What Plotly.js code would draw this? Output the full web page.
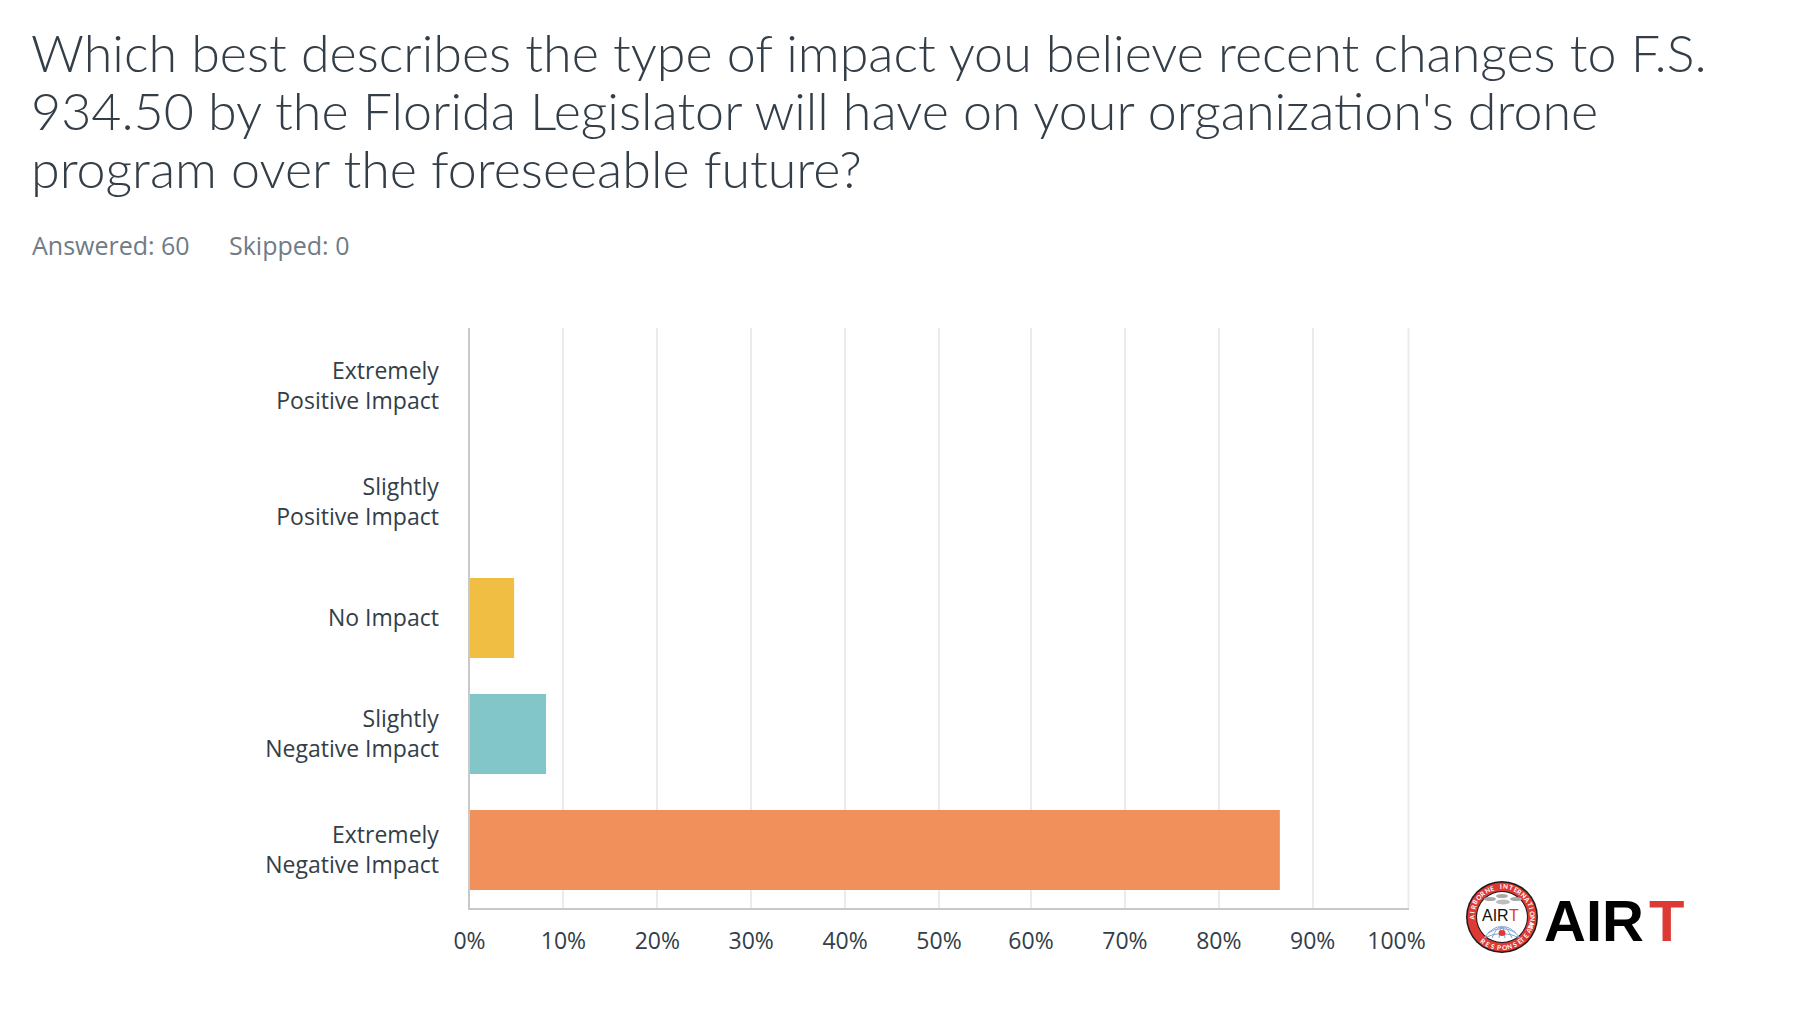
<!DOCTYPE html>
<html><head><meta charset="utf-8">
<script src="https://cdn.plot.ly/plotly-3.0.1.min.js"></script>
<style>html,body{margin:0;padding:0;background:#fff}</style></head>
<body><div id="chart" style="width:1796px;height:1010px"></div>
<script>
const W=1796,H=1010;
const categories=["Extremely<br>Negative Impact","Slightly<br>Negative Impact","No Impact","Slightly<br>Positive Impact","Extremely<br>Positive Impact"];
const values=[86.3,8.15,4.75,0,0];
const barColors=["#f2905c","#83c6ca","#f0be43","#cccccc","#cccccc"];
const xTickVals=[0,10,20,30,40,50,59.8,69.8,79.8,89.8,100];
const xTickText=["0%","10%","20%","30%","40%","50%","60%","70%","80%","90%","100%\u00a0\u00a0\u00a0\u00a0"];
const titleLines=["Which best describes the type of impact you believe recent changes to F.S.","934.50 by the Florida Legislator will have on your organization's drone","program over the foreseeable future?"];
const FONT="Lato, sans-serif", LABEL="'Open Sans', sans-serif", LOGO="'Liberation Sans', sans-serif", INK="#333e48";
const px=x=>x/W, py=y=>1-y/H;
const ann=(text,x,y,size,color,o={})=>Object.assign({text,x:px(x),y:py(y),xref:'paper',yref:'paper',showarrow:false,xanchor:'left',yanchor:'middle',font:{family:FONT,size,color}},o);
const annotations=[];
titleLines.forEach((t,i)=>annotations.push(ann(t,29,51.5+i*58.3,52,INK,{font:{family:FONT,size:52,color:INK,weight:300}})));
annotations.push(ann("Answered: 60",30,245,25,"#6f7b85",{font:{family:LABEL,size:25,color:"#6f7b85"}}));
annotations.push(ann("Skipped: 0",226.5,245,25,"#6f7b85",{font:{family:LABEL,size:25,color:"#6f7b85"}}));
// logo
const cx=1502,cy=917;
const circ=(r,fill)=>({type:'circle',xref:'paper',yref:'paper',x0:px(cx-r),x1:px(cx+r),y0:py(cy+r),y1:py(cy-r),fillcolor:fill,line:{width:0}});
const shapes=[{type:'line',xref:'paper',yref:'paper',x0:px(1408.5),x1:px(1408.5),y0:py(908),y1:py(328),line:{color:"#ebebeb",width:2},layer:'below'},circ(36,"#1a1a1a"),circ(34.5,"#dd3a36"),circ(26,"#1a1a1a"),circ(25,"#ffffff")];
const ell=(x,y,rx,ry,c)=>({type:'circle',xref:'paper',yref:'paper',x0:px(x-rx),x1:px(x+rx),y0:py(y+ry),y1:py(y-ry),fillcolor:c,line:{width:0}});
shapes.push(ell(1490,899,6,2,"#a9a9a9"),ell(1516,899,6,2,"#a9a9a9"),ell(1502,896,6,2,"#a9a9a9"),ell(1503,902,7,2.5,"#bdbdbd"));
const P=(x,y)=>`${px(x)} ${py(y)}`;
[[-18,-9],[-10,-5],[-3,-1.5],[3,1.5],[10,5],[18,9]].forEach(([a,b])=>shapes.push({type:'path',xref:'paper',yref:'paper',path:`M${P(cx+a,938)}Q${P(cx+b*0.9,925)} ${P(cx,927)}`,line:{color:"#7fa6d6",width:1}}));
[[-18,18,938],[-14,14,933]].forEach(([a,b,y])=>shapes.push({type:'path',xref:'paper',yref:'paper',path:`M${P(cx+a,y)}Q${P(cx,y-9)} ${P(cx+b,y)}`,line:{color:"#7fa6d6",width:1}}));
shapes.push(ell(cx,933,3.5,3,"#dd3a36"));
annotations.push(ann("AIR",1480,915,16,"#111",{font:{family:LOGO,size:16,color:"#111"}}));
annotations.push(ann("T",1507,915,16,"#dd3a36",{font:{family:LOGO,size:16,color:"#dd3a36"}}));
annotations.push(ann("AIR",1542,920,58,"#000",{font:{family:LOGO,size:58,color:"#000",weight:700}}));
annotations.push(ann("T",1647,920,58,"#dd3a36",{font:{family:LOGO,size:58,color:"#dd3a36",weight:700}}));
const ring=(word,startDeg,step,bottom)=>[...word].forEach((ch,i)=>{
  const d=startDeg+i*step, a=d*Math.PI/180, r=30.5;
  annotations.push({text:ch,x:px(cx+r*Math.sin(a)),y:py(cy-r*Math.cos(a)),xref:'paper',yref:'paper',showarrow:false,xanchor:'center',yanchor:'middle',textangle:bottom?d-180:d,font:{family:FONT,size:6.5,color:"#fff",weight:700}});
});
ring("AIRBORNE",-92,10.5,false);
ring("INTERNATIONAL",-2,9.5,false);
ring("RESPONSE",218,-10.5,true);
ring("TEAM",138,-10.5,true);
const data=[{type:'bar',orientation:'h',y:categories,x:values,width:0.69,marker:{color:barColors,line:{width:0}},hoverinfo:'skip'}];
const layout={width:W,height:H,margin:{l:0,r:0,t:0,b:0,pad:0},paper_bgcolor:"#fff",plot_bgcolor:"#fff",showlegend:false,
 font:{family:LABEL,color:INK,size:23},annotations,shapes,
 xaxis:{domain:[469.5/W,1408.5/W],range:[0,100],tickmode:'array',tickvals:xTickVals,ticktext:xTickText,showgrid:true,gridcolor:"#ebebeb",gridwidth:2,zeroline:false,showline:true,linecolor:"#c9c9c9",linewidth:2,ticks:'',tickfont:{family:LABEL,size:23,color:INK},ticklabelstandoff:11},
 yaxis:{domain:[1-908/H,1-328/H],type:'category',categoryorder:'array',categoryarray:categories,showgrid:false,zeroline:false,showline:true,linecolor:"#c9c9c9",linewidth:2,ticks:'',tickfont:{family:LABEL,size:23,color:INK},ticklabelstandoff:24}};
Plotly.newPlot('chart',data,layout,{displayModeBar:false,staticPlot:true});
</script></body></html>
